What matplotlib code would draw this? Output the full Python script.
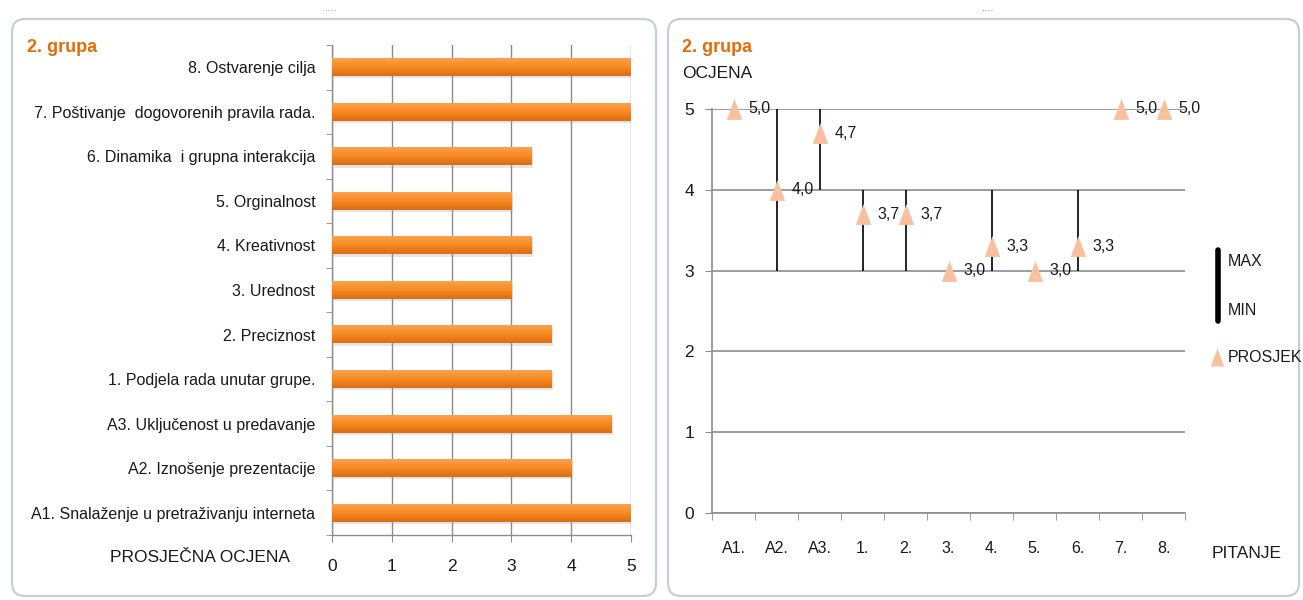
import numpy as np
import matplotlib
matplotlib.use("Agg")
import matplotlib.pyplot as plt
from matplotlib.patches import FancyBboxPatch
from matplotlib.lines import Line2D
from matplotlib.colors import LinearSegmentedColormap

plt.rcParams['font.family'] = ['Liberation Sans', 'DejaVu Sans']

# ---------------- data ----------------
bar_labels = [
    "A1. Snalaženje u pretraživanju interneta",
    "A2. Iznošenje prezentacije",
    "A3. Uključenost u predavanje",
    "1. Podjela rada unutar grupe.",
    "2. Preciznost",
    "3. Urednost",
    "4. Kreativnost",
    "5. Orginalnost",
    "6. Dinamika  i grupna interakcija",
    "7. Poštivanje  dogovorenih pravila rada.",
    "8. Ostvarenje cilja",
]
bar_values = [5.0, 4.0, 4.67, 3.67, 3.67, 3.0, 3.33, 3.0, 3.33, 5.0, 5.0]
bar_xticks = [0, 1, 2, 3, 4, 5]

questions = ["A1.", "A2.", "A3.", "1.", "2.", "3.", "4.", "5.", "6.", "7.", "8."]
max_vals = [5, 5, 5, 4, 4, 3, 4, 3, 4, 5, 5]
min_vals = [5, 3, 4, 3, 3, 3, 3, 3, 3, 5, 5]
avg_vals = [5.0, 4.0, 4.7, 3.7, 3.7, 3.0, 3.3, 3.0, 3.3, 5.0, 5.0]
grade_ticks = [0, 1, 2, 3, 4, 5]

title_text = "2. grupa"
W, H = 1303, 600
fig = plt.figure(figsize=(W / 100, H / 100), dpi=100)

def fx(px):
    return px / W

def fy(py):
    return 1 - py / H

TXT = '#1a1a1a'
ORANGE = '#E46C0A'
GRID = '#8c8c8c'
PEACH = '#F9C0A0'
FS = 11.5
tri = [(-0.37, -0.5), (0.37, -0.5), (0.0, 0.5), (-0.37, -0.5)]

# panels
for x0, x1 in [(12, 656), (668, 1299)]:
    p = FancyBboxPatch((x0 / 100, 0.04), (x1 - x0) / 100, 5.77,
                       boxstyle="round,pad=0,rounding_size=0.13",
                       transform=fig.dpi_scale_trans, facecolor='white',
                       edgecolor='#c5cfd8', lw=1.6, zorder=0)
    fig.add_artist(p)
for xc in [331, 988]:
    fig.text(fx(xc), fy(11), "····", ha='center', va='center', fontsize=7, color='#777777')

# ---------------- left: bar chart ----------------
ax1 = fig.add_axes([fx(332), fy(535), fx(631) - fx(332), fy(45) - fy(535)])
y = np.arange(len(bar_values))
h = 0.4
cmap = LinearSegmentedColormap.from_list('og', ['#FBA24E', '#F7891F', '#DA6C17'])
grad = np.linspace(0, 1, 50).reshape(-1, 1)
ax1.barh(y - 0.05, bar_values, height=h, left=0.03, color='#9a9a9a', alpha=0.25, zorder=2, lw=0)
for yi, v in zip(y, bar_values):
    ax1.imshow(grad, extent=[0, v, yi - h / 2, yi + h / 2], aspect='auto', cmap=cmap,
               origin='upper', zorder=3, interpolation='bilinear')
ax1.set_xlim(0, 5)
ax1.set_ylim(-0.5, len(bar_values) - 0.5)
ax1.set_xticks(bar_xticks)
ax1.set_xticklabels([str(t) for t in bar_xticks], fontsize=FS + 1, color=TXT)
ax1.set_yticks(y)
ax1.set_yticklabels(bar_labels, fontsize=FS, color=TXT)
ax1.set_yticks(np.arange(-0.5, len(bar_values), 1), minor=True)
ax1.tick_params(axis='y', which='major', length=0, pad=12)
ax1.tick_params(axis='y', which='minor', length=4, color=GRID, direction='out')
ax1.tick_params(axis='x', which='major', length=5, color=GRID, pad=12)
ax1.grid(axis='x', color=GRID, lw=1, zorder=1)
ax1.set_axisbelow(True)
for s in ['top', 'right']:
    ax1.spines[s].set_visible(False)
for s in ['left', 'bottom']:
    ax1.spines[s].set_color(GRID)
    ax1.spines[s].set_linewidth(1)
fig.text(fx(27), fy(47), title_text, color=ORANGE, fontsize=13, fontweight='bold', ha='left', va='center')
fig.text(fx(200), fy(558), "PROSJEČNA OCJENA", fontsize=FS + 1, color=TXT, ha='center', va='center')

# ---------------- right: high-low chart ----------------
ax2 = fig.add_axes([fx(712), fy(513), fx(1185) - fx(712), fy(109) - fy(513)])
xq = np.arange(len(questions))
ax2.vlines(xq, min_vals, max_vals, color='black', lw=1.2, zorder=3)
ax2.plot(xq, avg_vals, linestyle='none', marker=tri, markersize=15, color=PEACH,
         markeredgewidth=0, zorder=4, clip_on=False)
for xi, v in zip(xq, avg_vals):
    ax2.annotate(f"{v:.1f}".replace('.', ','), (xi, v), xytext=(11, 0), textcoords='offset points',
                 ha='left', va='center', fontsize=FS, color=TXT, zorder=5, annotation_clip=False)
ax2.set_xlim(-0.5, len(questions) - 0.5)
ax2.set_ylim(0, 5)
ax2.set_yticks(grade_ticks)
ax2.set_yticklabels([str(t) for t in grade_ticks], fontsize=FS + 1, color=TXT)
ax2.set_xticks(xq)
ax2.set_xticklabels(questions, fontsize=FS, color=TXT)
ax2.set_xticks(np.arange(-0.5, len(questions), 1), minor=True)
ax2.tick_params(axis='x', which='major', length=0, pad=20)
ax2.tick_params(axis='x', which='minor', length=5, color=GRID, direction='out')
ax2.tick_params(axis='y', which='major', length=5, color=GRID, pad=8)
ax2.grid(axis='y', color=GRID, lw=1.2, zorder=1)
ax2.set_axisbelow(True)
for s in ['top', 'right']:
    ax2.spines[s].set_visible(False)
for s in ['left', 'bottom']:
    ax2.spines[s].set_color(GRID)
    ax2.spines[s].set_linewidth(1.2)
fig.text(fx(682), fy(47), title_text, color=ORANGE, fontsize=13, fontweight='bold', ha='left', va='center')
fig.text(fx(682), fy(73), "OCJENA", fontsize=FS + 1, color=TXT, ha='left', va='center')
fig.text(fx(1212), fy(553), "PITANJE", fontsize=FS + 1, color=TXT, ha='left', va='center')

# legend
fig.add_artist(Line2D([fx(1218), fx(1218)], [fy(250), fy(321)], transform=fig.transFigure,
                      color='black', lw=4, solid_capstyle='round'))
fig.text(fx(1228), fy(261), "MAX", fontsize=FS, color=TXT, ha='left', va='center')
fig.text(fx(1228), fy(310), "MIN", fontsize=FS, color=TXT, ha='left', va='center')
fig.add_artist(Line2D([fx(1217)], [fy(357)], transform=fig.transFigure, marker=tri,
                      markersize=13, color=PEACH, markeredgewidth=0, linestyle='none'))
fig.text(fx(1228), fy(357), "PROSJEK", fontsize=FS, color=TXT, ha='left', va='center')

fig.savefig("out.png", dpi=100)
